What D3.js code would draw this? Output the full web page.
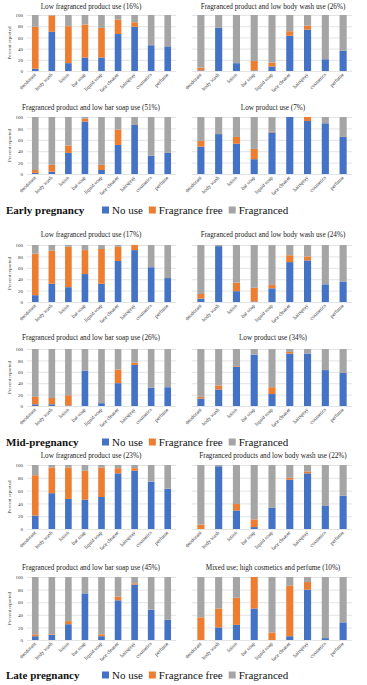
<!DOCTYPE html>
<html>
<head>
<meta charset="utf-8">
<script src="https://cdn.jsdelivr.net/npm/d3@7"></script>
<style>
  html, body { margin: 0; padding: 0; background: #fff; }
  svg { display: block; }
  svg text { font-family: "Liberation Serif", "Times New Roman", serif; }
</style>
</head>
<body>
<svg id="chart" width="367" height="685"></svg>
<script>
// ---------- data ----------
const categories = ["deodorant","body wash","lotion","bar soap","liquid soap","face cleaner","hairspray","cosmetics","perfume"];
const yTicks = [0,20,40,60,80,100];
const seriesNames = ["No use","Fragrance free","Fragranced"];
const stageNames = ["Early pregnancy","Mid-pregnancy","Late pregnancy"];

const earlyTitles = ["Low fragranced product use (16%)","Fragranced product and low body wash use (26%)","Fragranced product and low bar soap use (51%)","Low product use (7%)"];
const midTitles = ["Low fragranced product use (17%)","Fragranced product and low body wash use (24%)","Fragranced product and low bar soap use (26%)","Low product use (34%)"];
const lateTitles = ["Low fragranced product use (23%)","Fragranced products and low body wash use (22%)","Fragranced product and low bar soap use (45%)","Mixed use; high cosmetics and perfume (10%)"];

// Early pregnancy
const e1NoUse = [4,70,14,24,24,66,79,46,44];
const e1FragFree = [75,29,66,59,53,26,8,0,0];
const e1Fragranced = [21,1,20,17,23,8,13,54,56];
const e2NoUse = [1,77,14,1,8,63,74,21,36];
const e2FragFree = [5,0,0,17,7,8,7,0,0];
const e2Fragranced = [94,23,86,82,85,29,19,79,64];
const e3NoUse = [2,4,37,92,7,51,86,32,37];
const e3FragFree = [5,12,13,5,9,27,0,0,0];
const e3Fragranced = [93,84,50,3,84,22,14,68,63];
const e4NoUse = [48,70,53,26,73,100,93,89,65];
const e4FragFree = [10,0,12,18,1,0,7,0,0];
const e4Fragranced = [42,30,35,56,26,0,0,11,35];

// Mid-pregnancy
const m1NoUse = [12,32,26,49,32,72,91,61,42];
const m1FragFree = [73,58,71,42,61,25,9,0,0];
const m1Fragranced = [15,10,3,9,7,3,0,39,58];
const m2NoUse = [6,98,19,1,24,70,73,31,36];
const m2FragFree = [8,0,15,24,6,12,7,0,0];
const m2Fragranced = [86,2,66,75,70,18,20,69,64];
const m3NoUse = [3,3,1,62,5,40,72,32,33];
const m3FragFree = [13,11,18,0,0,24,4,0,0];
const m3Fragranced = [84,86,81,38,95,36,24,68,67];
const m4NoUse = [13,29,69,90,21,92,92,63,58];
const m4FragFree = [3,7,1,0,12,3,0,0,0];
const m4Fragranced = [84,64,30,10,67,5,8,37,42];

// Late pregnancy
const l1NoUse = [21,56,47,46,50,87,91,74,63];
const l1FragFree = [63,40,49,45,46,8,4,0,0];
const l1Fragranced = [16,4,4,9,4,5,5,26,37];
const l2NoUse = [0,98,29,3,33,77,87,36,52];
const l2FragFree = [7,0,10,12,0,3,3,0,0];
const l2Fragranced = [93,2,61,85,67,20,10,64,48];
const l3NoUse = [6,8,25,74,6,63,88,48,32];
const l3FragFree = [3,1,5,0,3,6,2,0,0];
const l3Fragranced = [91,91,70,26,91,31,10,52,68];
const l4NoUse = [0,20,24,50,0,6,80,3,28];
const l4FragFree = [36,30,43,50,12,80,12,0,0];
const l4Fragranced = [64,50,33,0,88,14,8,97,72];

// ---------- layout ----------
const FONT = "Liberation Serif, Times New Roman, serif";
const colors = ["#4472C4","#ED7D31","#A5A5A5"];
const gridColor = "#D9D9D9";
const colX = [{range:[27,176], titleX: 91, axis: true}, {range:[192,352], titleX: 273, axis: false}];
const stageLayout = [
  {rows:[{titleY:9, top:15, bottom:71},{titleY:110, top:117, bottom:174}], legendY:214},
  {rows:[{titleY:237, top:245, bottom:302},{titleY:340, top:349, bottom:406}], legendY:446},
  {rows:[{titleY:458, top:465, bottom:529},{titleY:570, top:577, bottom:640}], legendY:679}
];

const stages = [
  {name: stageNames[0], titles: earlyTitles, panels: [
    [e1NoUse,e1FragFree,e1Fragranced],[e2NoUse,e2FragFree,e2Fragranced],
    [e3NoUse,e3FragFree,e3Fragranced],[e4NoUse,e4FragFree,e4Fragranced]]},
  {name: stageNames[1], titles: midTitles, panels: [
    [m1NoUse,m1FragFree,m1Fragranced],[m2NoUse,m2FragFree,m2Fragranced],
    [m3NoUse,m3FragFree,m3Fragranced],[m4NoUse,m4FragFree,m4Fragranced]]},
  {name: stageNames[2], titles: lateTitles, panels: [
    [l1NoUse,l1FragFree,l1Fragranced],[l2NoUse,l2FragFree,l2Fragranced],
    [l3NoUse,l3FragFree,l3Fragranced],[l4NoUse,l4FragFree,l4Fragranced]]}
];

const svg = d3.select("#chart");
const keys = ["noUse","fragFree","fragranced"];

stages.forEach((stage, si) => {
  const lay = stageLayout[si];
  stage.panels.forEach((arrs, pi) => {
    const row = lay.rows[Math.floor(pi / 2)];
    const col = colX[pi % 2];
    const g = svg.append("g");

    const x = d3.scaleBand().domain(categories).range(col.range).paddingInner(0.6).paddingOuter(0.3);
    const y = d3.scaleLinear().domain([0,100]).range([row.bottom, row.top]);

    // title
    g.append("text")
      .attr("x", col.titleX).attr("y", row.titleY)
      .attr("text-anchor", "middle")
      .attr("font-family", FONT)
      .attr("font-size", 7.2).attr("fill", "#222")
      .text(stage.titles[pi]);

    // gridlines
    g.append("g").selectAll("line").data(yTicks).join("line")
      .attr("x1", col.range[0]).attr("x2", col.range[1])
      .attr("y1", d => y(d) + 0.5).attr("y2", d => y(d) + 0.5)
      .attr("stroke", gridColor).attr("stroke-width", 0.7);

    // y axis labels
    if (col.axis) {
      const yAxis = d3.axisLeft(y).tickValues(yTicks).tickSize(0).tickPadding(4);
      const ya = g.append("g").attr("transform", `translate(${col.range[0]},0)`).call(yAxis);
      ya.attr("font-family", FONT);
      ya.select(".domain").remove();
      ya.selectAll("text").attr("font-size", 5).attr("fill", "#333");
      g.append("text")
        .attr("transform", `translate(10,${(row.top + row.bottom) / 2}) rotate(-90)`)
        .attr("text-anchor", "middle").attr("dominant-baseline", "middle")
        .attr("font-family", FONT)
        .attr("font-size", 5).attr("fill", "#333")
        .text("Percent reported");
    }

    // stacked bars
    const rows = categories.map((c, i) => ({cat: c, noUse: arrs[0][i], fragFree: arrs[1][i], fragranced: arrs[2][i]}));
    const stacked = d3.stack().keys(keys)(rows);
    g.append("g").selectAll("g").data(stacked).join("g")
      .attr("fill", (d, i) => colors[i])
      .selectAll("rect").data(d => d).join("rect")
      .attr("x", d => x(d.data.cat))
      .attr("width", x.bandwidth())
      .attr("y", d => y(d[1]))
      .attr("height", d => Math.max(0, y(d[0]) - y(d[1])));

    // x axis labels
    const xAxis = d3.axisBottom(x).tickSize(0).tickPadding(0);
    const xa = g.append("g").attr("transform", `translate(0,${row.bottom})`).call(xAxis);
    xa.attr("font-family", FONT);
    xa.select(".domain").remove();
    xa.selectAll("text")
      .attr("font-size", 5.2).attr("fill", "#333")
      .attr("text-anchor", "end")
      .attr("dy", null).attr("y", 0)
      .attr("transform", "translate(1,4) rotate(-45)");
  });

  // stage label + legend
  const lg = svg.append("g");
  lg.append("text")
    .attr("x", 6).attr("y", lay.legendY)
    .attr("font-family", FONT)
    .attr("font-size", 11).attr("font-weight", "bold").attr("fill", "#111")
    .text(stage.name);
  let lx = 102;
  seriesNames.forEach((nm, i) => {
    lg.append("rect").attr("x", lx).attr("y", lay.legendY - 7.5)
      .attr("width", 7).attr("height", 7).attr("fill", colors[i]);
    const t = lg.append("text").attr("x", lx + 10).attr("y", lay.legendY)
      .attr("font-family", FONT)
      .attr("font-size", 11).attr("fill", "#111").text(nm);
    lx += 10 + t.node().getComputedTextLength() + 6;
  });
});
</script>
</body>
</html>
